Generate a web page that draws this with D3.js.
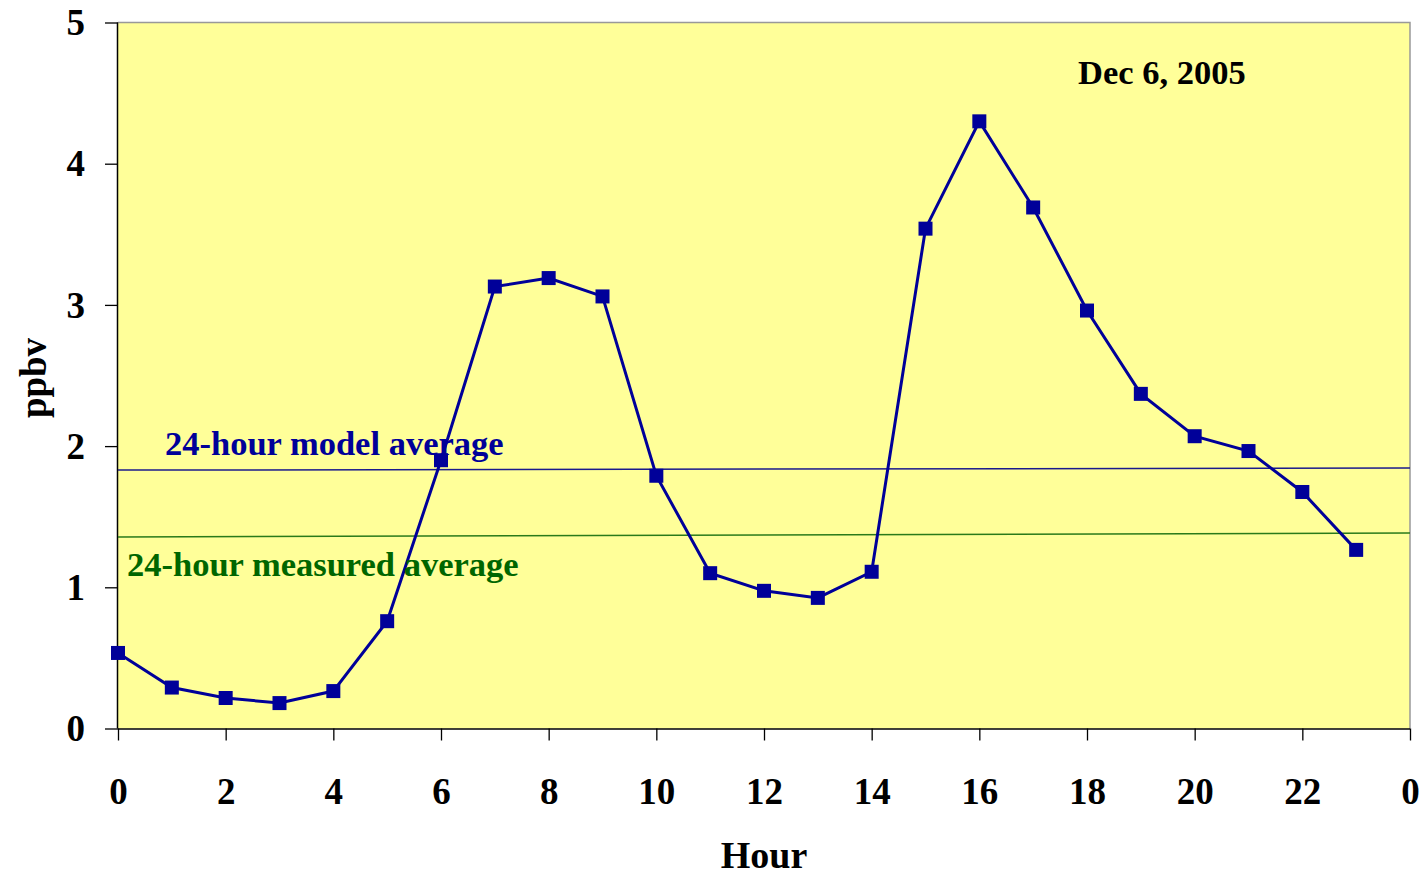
<!DOCTYPE html>
<html><head><meta charset="utf-8">
<script src="https://cdn.jsdelivr.net/npm/d3@7"></script>
<style>body{margin:0;background:#fff}svg{display:block}</style>
</head><body>
<svg id="c" width="1428" height="876"></svg>
<script>
const hours = [0,1,2,3,4,5,6,7,8,9,10,11,12,13,14,15,16,17,18,19,20,21,22,23];
const ppbv = [0.535,0.29,0.216,0.18,0.265,0.76,1.90,3.13,3.19,3.06,1.79,1.10,0.975,0.925,1.11,3.54,4.30,3.69,2.96,2.37,2.07,1.965,1.675,1.265];
const xTicks = [0,2,4,6,8,10,12,14,16,18,20,22,24];
const xTickLabels = ["0","2","4","6","8","10","12","14","16","18","20","22","0"];
const yTicks = [0,1,2,3,4,5];
const modelAvg = [1.83,1.845];     // value at hour 0 and at hour 24
const measuredAvg = [1.356,1.385];
const labels = {model:"24-hour model average", measured:"24-hour measured average", date:"Dec 6, 2005", x:"Hour", y:"ppbv"};

const svg = d3.select("#c");
const L=118,R=1410,T=22.5,B=728.5;
const x = d3.scaleLinear().domain([0,24]).range([L,R]);
const y = d3.scaleLinear().domain([0,5]).range([B,T]);
const font = "'Liberation Serif','Times New Roman',serif";

svg.append("rect").attr("x",L).attr("y",T).attr("width",R-L).attr("height",B-T).attr("fill","#FFFF99");
svg.append("path").attr("d",`M${L},${T}H${R}V${B}`).attr("fill","none").attr("stroke","#999").attr("stroke-width",1.5);

const ax = svg.append("g").attr("transform",`translate(0,${B})`)
  .call(d3.axisBottom(x).tickValues(xTicks).tickSize(12).tickFormat((d,i)=>xTickLabels[i]));
ax.select(".domain").attr("stroke","#000").attr("stroke-width",1.5).attr("d",`M${L},0.5H${R}`);
ax.selectAll(".tick line").attr("stroke","#000").attr("stroke-width",1.3);
ax.selectAll(".tick text").attr("font-family",font).attr("font-weight","bold").attr("font-size",37).attr("fill","#000").attr("dy",0).attr("y",75);

const ay = svg.append("g").attr("transform",`translate(${L},0)`)
  .call(d3.axisLeft(y).tickValues(yTicks).tickSize(13).tickFormat(d3.format("d")));
ay.select(".domain").attr("stroke","#000").attr("stroke-width",1.5).attr("d",`M-0.5,${T}V${B}`);
ay.selectAll(".tick line").attr("stroke","#000").attr("stroke-width",1.3);
ay.selectAll(".tick text").attr("font-family",font).attr("font-weight","bold").attr("font-size",37).attr("fill","#000").attr("x",-33).attr("dy","0.33em");

svg.append("line").attr("x1",x(0)).attr("x2",x(24)).attr("y1",y(modelAvg[0])).attr("y2",y(modelAvg[1]))
  .attr("stroke","#1a1a8c").attr("stroke-width",1.5);
svg.append("line").attr("x1",x(0)).attr("x2",x(24)).attr("y1",y(measuredAvg[0])).attr("y2",y(measuredAvg[1]))
  .attr("stroke","#2a7a1a").attr("stroke-width",1.5);

svg.append("path").datum(hours.map((h,i)=>[h,ppbv[i]]))
  .attr("d",d3.line().x(d=>x(d[0])).y(d=>y(d[1])))
  .attr("fill","none").attr("stroke","#000099").attr("stroke-width",3);
const s=14;
svg.selectAll("rect.m").data(hours).enter().append("rect").attr("class","m")
  .attr("x",(h)=>x(h)-s/2).attr("y",(h,i)=>y(ppbv[i])-s/2).attr("width",s).attr("height",s).attr("fill","#000099");

svg.append("text").attr("x",165).attr("y",455).text(labels.model)
  .attr("font-family",font).attr("font-weight","bold").attr("font-size",34.5).attr("fill","#000099");
svg.append("text").attr("x",127).attr("y",576).text(labels.measured)
  .attr("font-family",font).attr("font-weight","bold").attr("font-size",34.5).attr("fill","#006600");
svg.append("text").attr("x",1078).attr("y",84).text(labels.date)
  .attr("font-family",font).attr("font-weight","bold").attr("font-size",34.5).attr("fill","#000");
svg.append("text").attr("x",764).attr("y",868).attr("text-anchor","middle").text(labels.x)
  .attr("font-family",font).attr("font-weight","bold").attr("font-size",38).attr("fill","#000");
svg.append("text").attr("transform","translate(46,378) rotate(-90)").attr("text-anchor","middle").text(labels.y)
  .attr("font-family",font).attr("font-weight","bold").attr("font-size",37).attr("fill","#000");
</script>
</body></html>
